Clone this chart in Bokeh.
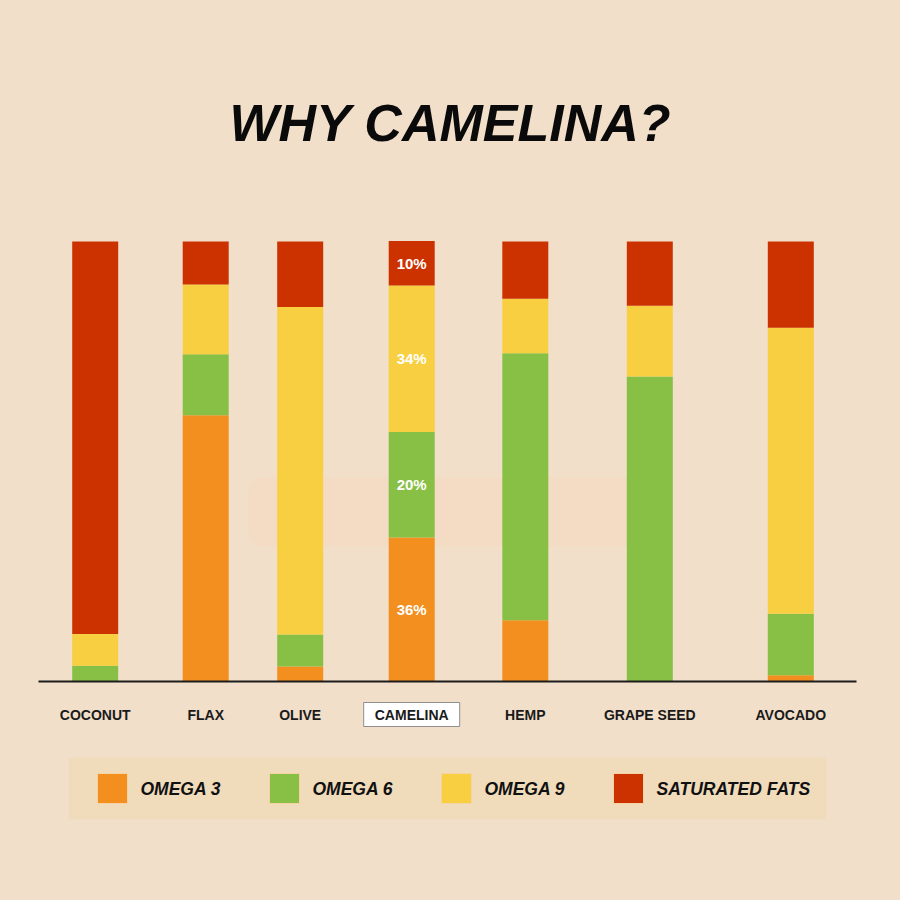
from bokeh.plotting import figure
from bokeh.models import Range1d, ColumnDataSource, GlobalInlineStyleSheet
from bokeh.core.properties import value
from bokeh.embed import file_html
from bokeh.resources import INLINE

# ---------------- data ----------------
title = "WHY CAMELINA?"
categories = ["COCONUT", "FLAX", "OLIVE", "CAMELINA", "HEMP", "GRAPE SEED", "AVOCADO"]
series_names = ["OMEGA 3", "OMEGA 6", "OMEGA 9", "SATURATED FATS"]
omega3 = [0.0, 60.5, 3.4, 32.7, 13.9, 0.0, 1.4]
omega6 = [3.6, 13.9, 7.3, 24.0, 60.7, 69.3, 14.0]
omega9 = [7.2, 15.8, 74.4, 33.3, 12.4, 16.1, 65.0]
saturated = [89.2, 9.8, 14.9, 10.1, 13.0, 14.6, 19.6]
highlight = "CAMELINA"
highlight_labels = ["36%", "20%", "34%", "10%"]   # omega3, omega6, omega9, saturated

# ---------------- layout / style ----------------
BG = "#f1dfca"
LEGEND_BG = "#f0dbbb"
colors = ["#f28f1f", "#88c045", "#f7cf41", "#cc3200"]
slot_x = [94.7, 205.2, 299.7, 411.2, 524.8, 649.3, 790.3]   # bar centre slots (page px)
BAR_W = 46
PX_PER_UNIT = 4.4
BASE_Y = 681.0
W, H = 884, 884
OFF = 0


def py(page_y):
    return (BASE_Y - page_y) / PX_PER_UNIT


p = figure(width=W, height=H,
           x_range=Range1d(OFF, OFF + W),
           y_range=Range1d(py(OFF + H), py(OFF)),
           output_backend="svg", toolbar_location=None, min_border=0)
p.axis.visible = False
p.grid.visible = False
p.outline_line_color = None
p.background_fill_color = BG
p.border_fill_color = BG
p.stylesheets = [GlobalInlineStyleSheet(css=f"html, body {{ background: {BG}; }}")]

# faint decorative rounded panel behind the bars
p.quad(left=[248], right=[652], bottom=[py(546)], top=[py(477)],
       fill_color="#f6d8bc", fill_alpha=0.45, line_color=None,
       border_radius=14)

# stacked bars
src = ColumnDataSource(dict(x=slot_x, o3=omega3, o6=omega6, o9=omega9, sat=saturated))
p.vbar_stack(["o3", "o6", "o9", "sat"], x="x", width=BAR_W, source=src,
             color=colors, line_color=None)

# baseline
p.segment(x0=[38], x1=[856], y0=[0], y1=[0], line_color="#1c1c1c", line_width=2)

# percentage labels on highlighted bar
hi = categories.index(highlight)
vals = [omega3[hi], omega6[hi], omega9[hi], saturated[hi]]
mids, acc = [], 0.0
for v in vals:
    mids.append(acc + v / 2)
    acc += v
p.text(x=[slot_x[hi]] * 4, y=mids, text=highlight_labels,
       text_font=value("Liberation Sans"), text_font_style="bold",
       text_font_size="15px", text_color="white",
       text_align="center", text_baseline="middle")

# title
p.text(x=[450], y=[py(122.5)], text=[title],
       text_font=value("Liberation Sans"), text_font_style="bold italic",
       text_font_size="52px", text_color="#0a0a0a",
       text_align="center", text_baseline="middle")

# highlight box around category label
p.rect(x=[slot_x[hi]], y=[py(714)], width=96, height=24,
       width_units="screen", height_units="screen",
       fill_color="white", line_color="#8f8f8f", line_width=1)

# category labels
p.text(x=slot_x, y=[py(714)] * len(categories), text=categories,
       text_font=value("Liberation Sans"), text_font_style="bold",
       text_font_size="14px", text_color="#1a1a1a",
       text_align="center", text_baseline="middle")

# legend panel
p.quad(left=[68], right=[826], bottom=[py(819)], top=[py(757)],
       fill_color=LEGEND_BG, line_color=None)
sw_left = [97, 269, 441, 613]
p.quad(left=sw_left, right=[s + 30 for s in sw_left],
       bottom=[py(803)] * 4, top=[py(773)] * 4,
       fill_color=colors, line_color="#f6d3a4", line_width=1)
p.text(x=[s + 43 for s in sw_left], y=[py(788)] * 4, text=series_names,
       text_font=value("Liberation Sans"), text_font_style="bold italic",
       text_font_size="17.5px", text_color="#111111",
       text_align="left", text_baseline="middle")

open("out.html", "w").write(file_html(p, INLINE))
